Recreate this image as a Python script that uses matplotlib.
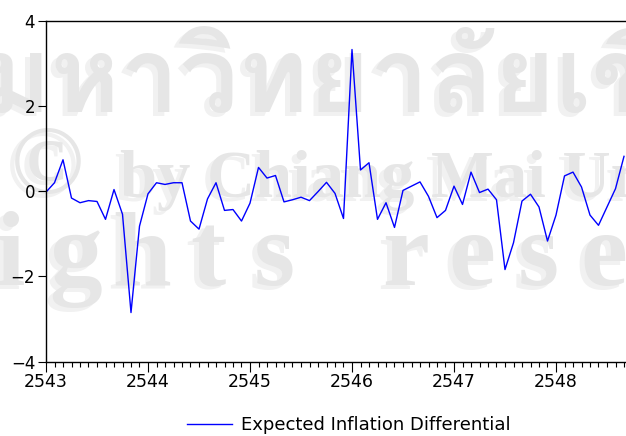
import matplotlib
matplotlib.use("Agg")
import matplotlib.pyplot as plt
from matplotlib.lines import Line2D
from matplotlib import font_manager
from matplotlib.ft2font import FT2Font
import numpy as np

# monthly series, starting 2543 (Thai Buddhist calendar years)
start_year = 2543
values = [-0.02, 0.20, 0.74, -0.16, -0.27, -0.22, -0.24, -0.66, 0.04, -0.54,
          -2.85, -0.82, -0.06, 0.20, 0.16, 0.20, 0.20, -0.70, -0.89, -0.18,
          0.20, -0.45, -0.43, -0.70, -0.28, 0.56, 0.31, 0.37, -0.25, -0.20,
          -0.14, -0.22, -0.01, 0.21, -0.05, -0.64, 3.33, 0.50, 0.67, -0.66,
          -0.27, -0.85, 0.02, 0.12, 0.22, -0.12, -0.62, -0.45, 0.12, -0.31,
          0.45, -0.03, 0.05, -0.20, -1.84, -1.21, -0.23, -0.07, -0.37, -1.17,
          -0.56, 0.36, 0.45, 0.10, -0.56, -0.80, -0.37, 0.06, 0.82]
series_label = "Expected Inflation Differential"
year_ticks = [2543, 2544, 2545, 2546, 2547, 2548]
y_ticks = [-4, -2, 0, 2, 4]

x = start_year + np.arange(len(values)) / 12.0

W, H = 626, 436
fig = plt.figure(figsize=(W / 100, H / 100), dpi=100)


def px(xp, yp):
    return xp / W, 1 - yp / H


# --- watermark (behind the chart) ---
def find_font_for(ch):
    seen = set()
    for f in font_manager.fontManager.ttflist:
        if f.fname in seen:
            continue
        seen.add(f.fname)
        try:
            if ord(ch) in FT2Font(f.fname).get_charmap():
                return f.name
        except Exception:
            pass
    return None


light, dark = "#f1f1f1", "#e6e6e6"
serif = dict(fontweight="bold", family="Liberation Serif", zorder=-1)
thai_font = find_font_for("ม")
for dx, dy, c in [(-5, 4, light), (0, 0, dark)]:
    if thai_font:
        fig.text(*px(-18 + dx, 112 + dy), "มหาวิทยาลัยเชียงใหม่", fontsize=76,
                 fontweight="bold", family=thai_font, color=c, zorder=-1)
    fig.text(*px(47 + dx, 170 + dy), "©", fontsize=70, color=c,
             ha="center", va="center", **serif)
    fig.text(*px(120 + dx, 197 + dy), "by Chiang Mai University",
             fontsize=48, color=c, **serif)
    for k, ch in enumerate("rights reserved"):
        if ch != " ":
            fig.text(*px(-56 + 66 * k + dx, 285 + dy), ch, fontsize=76,
                     color=c, ha="center", **serif)

# --- chart ---
ax = fig.add_axes([46 / W, 1 - 361.5 / H, 612 / W, 340.5 / H])
ax.patch.set_alpha(0)
ax.plot(x, values, color="#0000ff", lw=1.0)

ax.set_xlim(start_year, start_year + 6)
ax.set_ylim(-4, 4)
ax.set_xticks(year_ticks)
ax.set_xticklabels([str(y) for y in year_ticks])
ax.set_xticks(start_year + np.arange(0, 72) / 12.0, minor=True)
ax.set_yticks(y_ticks)

ax.spines["right"].set_visible(False)
for s in ["left", "bottom", "top"]:
    ax.spines[s].set_linewidth(1.0)
    ax.spines[s].set_color("black")

ax.tick_params(axis="x", which="major", direction="out", length=7.5, width=0.8,
               labelsize=12.5, pad=1)
ax.tick_params(axis="x", which="minor", direction="out", length=3.6, width=0.8)
ax.tick_params(axis="y", direction="out", length=5.8, width=0.8,
               labelsize=12, pad=2)

fig.legend(handles=[Line2D([], [], color="#0000ff", lw=1.0)],
           labels=[series_label], loc="center",
           bbox_to_anchor=px(349, 425), frameon=False, fontsize=13,
           handlelength=2.5, handletextpad=0.5)

fig.savefig("out.png", dpi=100)
